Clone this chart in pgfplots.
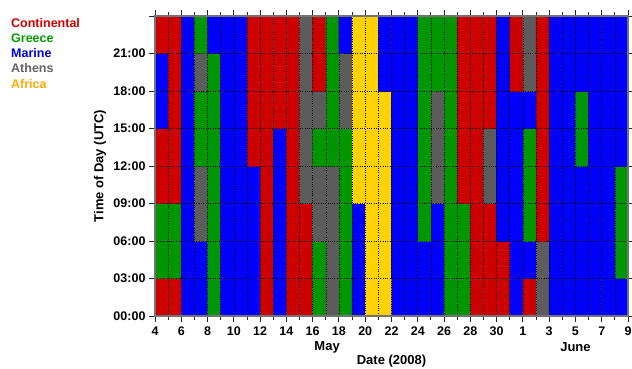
\documentclass[border=0pt]{standalone}
\usepackage{fontspec}
\setmainfont{Liberation Sans}
\usepackage{pgfplots}
\pgfplotsset{compat=1.18}
\definecolor{tCont}{RGB}{210,0,0}
\definecolor{tGree}{RGB}{0,160,0}
\definecolor{tMari}{RGB}{0,0,220}
\definecolor{tAthe}{RGB}{100,100,100}
\definecolor{tAfri}{RGB}{255,170,0}
\begin{document}
\begin{tikzpicture}
\path[use as bounding box] (0,0) rectangle (632pt,368pt);
\begin{axis}[
  at={(155pt,52pt)}, anchor=south west,
  scale only axis, width=473pt, height=300pt,
  xmin=0, xmax=36, ymin=0, ymax=24,
  enlargelimits=false,
  clip=false,
  axis on top,
  colormap={cats}{rgb255=(204,0,0) rgb255=(0,150,0) rgb255=(0,0,255) rgb255=(92,92,92) rgb255=(255,210,0)},
  colormap access=direct,
  xtick={0,2,...,36},
  xticklabels={4,6,8,10,12,14,16,18,20,22,24,26,28,30,1,3,5,7,9},
  minor xtick={1,3,...,35},
  ytick={0,3,...,24},
  yticklabels={00:00,03:00,06:00,09:00,12:00,15:00,18:00,21:00,{}},
  tick align=outside,
  major tick length=6pt,
  minor tick length=4pt,
  every tick/.style={black!85, line width=0.9pt},
  axis line style={black!55, line width=1.2pt},
  grid=both,
  major grid style={black, line width=0.6pt, dash pattern=on 1pt off 1.3pt},
  minor grid style={black, line width=0.6pt, dash pattern=on 1pt off 1.3pt},
  /pgf/number format/assume math mode=true,
  tick label style={font=\bfseries\fontsize{12.5}{14}\selectfont},
  xticklabel style={yshift=-1pt},
  xlabel={Date (2008)},
  ylabel={Time of Day (UTC)},
  label style={font=\bfseries\fontsize{13}{15}\selectfont},
  xlabel style={at={(axis description cs:0.5,-0.15)}, anchor=center},
  ylabel style={at={(axis description cs:-0.1163,0.5)}, anchor=center},
]
\addplot[matrix plot*, mesh/cols=36, mesh/rows=8, point meta=explicit]
 table[row sep=\\, meta=c] {
x y c\\
0.5 1.5 0\\ 1.5 1.5 0\\ 2.5 1.5 2\\ 3.5 1.5 2\\ 4.5 1.5 1\\ 5.5 1.5 2\\ 6.5 1.5 2\\ 7.5 1.5 2\\ 8.5 1.5 0\\ 9.5 1.5 2\\ 10.5 1.5 0\\ 11.5 1.5 0\\ 12.5 1.5 1\\ 13.5 1.5 3\\ 14.5 1.5 1\\ 15.5 1.5 2\\ 16.5 1.5 4\\ 17.5 1.5 4\\ 18.5 1.5 2\\ 19.5 1.5 2\\ 20.5 1.5 2\\ 21.5 1.5 2\\ 22.5 1.5 1\\ 23.5 1.5 1\\ 24.5 1.5 0\\ 25.5 1.5 0\\ 26.5 1.5 0\\ 27.5 1.5 2\\ 28.5 1.5 0\\ 29.5 1.5 3\\ 30.5 1.5 2\\ 31.5 1.5 2\\ 32.5 1.5 2\\ 33.5 1.5 2\\ 34.5 1.5 2\\ 35.5 1.5 2\\
0.5 4.5 1\\ 1.5 4.5 1\\ 2.5 4.5 2\\ 3.5 4.5 2\\ 4.5 4.5 1\\ 5.5 4.5 2\\ 6.5 4.5 2\\ 7.5 4.5 2\\ 8.5 4.5 0\\ 9.5 4.5 2\\ 10.5 4.5 0\\ 11.5 4.5 0\\ 12.5 4.5 1\\ 13.5 4.5 3\\ 14.5 4.5 1\\ 15.5 4.5 2\\ 16.5 4.5 4\\ 17.5 4.5 4\\ 18.5 4.5 2\\ 19.5 4.5 2\\ 20.5 4.5 2\\ 21.5 4.5 2\\ 22.5 4.5 1\\ 23.5 4.5 1\\ 24.5 4.5 0\\ 25.5 4.5 0\\ 26.5 4.5 0\\ 27.5 4.5 2\\ 28.5 4.5 2\\ 29.5 4.5 3\\ 30.5 4.5 2\\ 31.5 4.5 2\\ 32.5 4.5 2\\ 33.5 4.5 2\\ 34.5 4.5 2\\ 35.5 4.5 1\\
0.5 7.5 1\\ 1.5 7.5 1\\ 2.5 7.5 2\\ 3.5 7.5 3\\ 4.5 7.5 1\\ 5.5 7.5 2\\ 6.5 7.5 2\\ 7.5 7.5 2\\ 8.5 7.5 0\\ 9.5 7.5 2\\ 10.5 7.5 0\\ 11.5 7.5 0\\ 12.5 7.5 3\\ 13.5 7.5 3\\ 14.5 7.5 1\\ 15.5 7.5 2\\ 16.5 7.5 4\\ 17.5 7.5 4\\ 18.5 7.5 2\\ 19.5 7.5 2\\ 20.5 7.5 1\\ 21.5 7.5 2\\ 22.5 7.5 1\\ 23.5 7.5 1\\ 24.5 7.5 0\\ 25.5 7.5 0\\ 26.5 7.5 2\\ 27.5 7.5 2\\ 28.5 7.5 1\\ 29.5 7.5 0\\ 30.5 7.5 2\\ 31.5 7.5 2\\ 32.5 7.5 2\\ 33.5 7.5 2\\ 34.5 7.5 2\\ 35.5 7.5 1\\
0.5 10.5 0\\ 1.5 10.5 0\\ 2.5 10.5 2\\ 3.5 10.5 3\\ 4.5 10.5 1\\ 5.5 10.5 2\\ 6.5 10.5 2\\ 7.5 10.5 2\\ 8.5 10.5 0\\ 9.5 10.5 2\\ 10.5 10.5 0\\ 11.5 10.5 3\\ 12.5 10.5 3\\ 13.5 10.5 3\\ 14.5 10.5 1\\ 15.5 10.5 4\\ 16.5 10.5 4\\ 17.5 10.5 4\\ 18.5 10.5 2\\ 19.5 10.5 2\\ 20.5 10.5 1\\ 21.5 10.5 3\\ 22.5 10.5 1\\ 23.5 10.5 0\\ 24.5 10.5 0\\ 25.5 10.5 3\\ 26.5 10.5 2\\ 27.5 10.5 2\\ 28.5 10.5 1\\ 29.5 10.5 0\\ 30.5 10.5 2\\ 31.5 10.5 2\\ 32.5 10.5 2\\ 33.5 10.5 2\\ 34.5 10.5 2\\ 35.5 10.5 1\\
0.5 13.5 0\\ 1.5 13.5 0\\ 2.5 13.5 2\\ 3.5 13.5 1\\ 4.5 13.5 1\\ 5.5 13.5 2\\ 6.5 13.5 2\\ 7.5 13.5 0\\ 8.5 13.5 0\\ 9.5 13.5 2\\ 10.5 13.5 0\\ 11.5 13.5 3\\ 12.5 13.5 1\\ 13.5 13.5 1\\ 14.5 13.5 1\\ 15.5 13.5 4\\ 16.5 13.5 4\\ 17.5 13.5 4\\ 18.5 13.5 2\\ 19.5 13.5 2\\ 20.5 13.5 1\\ 21.5 13.5 3\\ 22.5 13.5 1\\ 23.5 13.5 0\\ 24.5 13.5 0\\ 25.5 13.5 3\\ 26.5 13.5 2\\ 27.5 13.5 2\\ 28.5 13.5 1\\ 29.5 13.5 0\\ 30.5 13.5 2\\ 31.5 13.5 2\\ 32.5 13.5 1\\ 33.5 13.5 2\\ 34.5 13.5 2\\ 35.5 13.5 2\\
0.5 16.5 2\\ 1.5 16.5 0\\ 2.5 16.5 2\\ 3.5 16.5 1\\ 4.5 16.5 1\\ 5.5 16.5 2\\ 6.5 16.5 2\\ 7.5 16.5 0\\ 8.5 16.5 0\\ 9.5 16.5 0\\ 10.5 16.5 0\\ 11.5 16.5 3\\ 12.5 16.5 3\\ 13.5 16.5 1\\ 14.5 16.5 3\\ 15.5 16.5 4\\ 16.5 16.5 4\\ 17.5 16.5 4\\ 18.5 16.5 2\\ 19.5 16.5 2\\ 20.5 16.5 1\\ 21.5 16.5 3\\ 22.5 16.5 1\\ 23.5 16.5 0\\ 24.5 16.5 0\\ 25.5 16.5 0\\ 26.5 16.5 2\\ 27.5 16.5 2\\ 28.5 16.5 2\\ 29.5 16.5 0\\ 30.5 16.5 2\\ 31.5 16.5 2\\ 32.5 16.5 1\\ 33.5 16.5 2\\ 34.5 16.5 2\\ 35.5 16.5 2\\
0.5 19.5 2\\ 1.5 19.5 0\\ 2.5 19.5 2\\ 3.5 19.5 3\\ 4.5 19.5 1\\ 5.5 19.5 2\\ 6.5 19.5 2\\ 7.5 19.5 0\\ 8.5 19.5 0\\ 9.5 19.5 0\\ 10.5 19.5 0\\ 11.5 19.5 3\\ 12.5 19.5 0\\ 13.5 19.5 1\\ 14.5 19.5 3\\ 15.5 19.5 4\\ 16.5 19.5 4\\ 17.5 19.5 2\\ 18.5 19.5 2\\ 19.5 19.5 2\\ 20.5 19.5 1\\ 21.5 19.5 1\\ 22.5 19.5 1\\ 23.5 19.5 0\\ 24.5 19.5 0\\ 25.5 19.5 0\\ 26.5 19.5 2\\ 27.5 19.5 0\\ 28.5 19.5 3\\ 29.5 19.5 0\\ 30.5 19.5 2\\ 31.5 19.5 2\\ 32.5 19.5 2\\ 33.5 19.5 2\\ 34.5 19.5 2\\ 35.5 19.5 2\\
0.5 22.5 0\\ 1.5 22.5 0\\ 2.5 22.5 2\\ 3.5 22.5 1\\ 4.5 22.5 2\\ 5.5 22.5 2\\ 6.5 22.5 2\\ 7.5 22.5 0\\ 8.5 22.5 0\\ 9.5 22.5 0\\ 10.5 22.5 0\\ 11.5 22.5 3\\ 12.5 22.5 0\\ 13.5 22.5 1\\ 14.5 22.5 2\\ 15.5 22.5 4\\ 16.5 22.5 4\\ 17.5 22.5 2\\ 18.5 22.5 2\\ 19.5 22.5 2\\ 20.5 22.5 1\\ 21.5 22.5 1\\ 22.5 22.5 1\\ 23.5 22.5 0\\ 24.5 22.5 0\\ 25.5 22.5 0\\ 26.5 22.5 2\\ 27.5 22.5 0\\ 28.5 22.5 3\\ 29.5 22.5 0\\ 30.5 22.5 2\\ 31.5 22.5 2\\ 32.5 22.5 2\\ 33.5 22.5 2\\ 34.5 22.5 2\\ 35.5 22.5 2\\
};
\node[font=\bfseries\fontsize{13}{15}\selectfont, yshift=-31pt] at (axis cs:13.1,0) {May};
\node[font=\bfseries\fontsize{13}{15}\selectfont, yshift=-31pt] at (axis cs:32,0) {June};
\end{axis}
\begin{scope}[every node/.style={anchor=base west, inner sep=0pt, font=\bfseries\fontsize{12.5}{14}\selectfont}]
\node[text=tCont] at (11pt,340.7pt) {Continental};
\node[text=tGree] at (11pt,325.1pt) {Greece};
\node[text=tMari] at (11pt,311.0pt) {Marine};
\node[text=tAthe] at (11pt,295.3pt) {Athens};
\node[text=tAfri] at (11pt,279.3pt) {Africa};
\end{scope}
\end{tikzpicture}
\end{document}
